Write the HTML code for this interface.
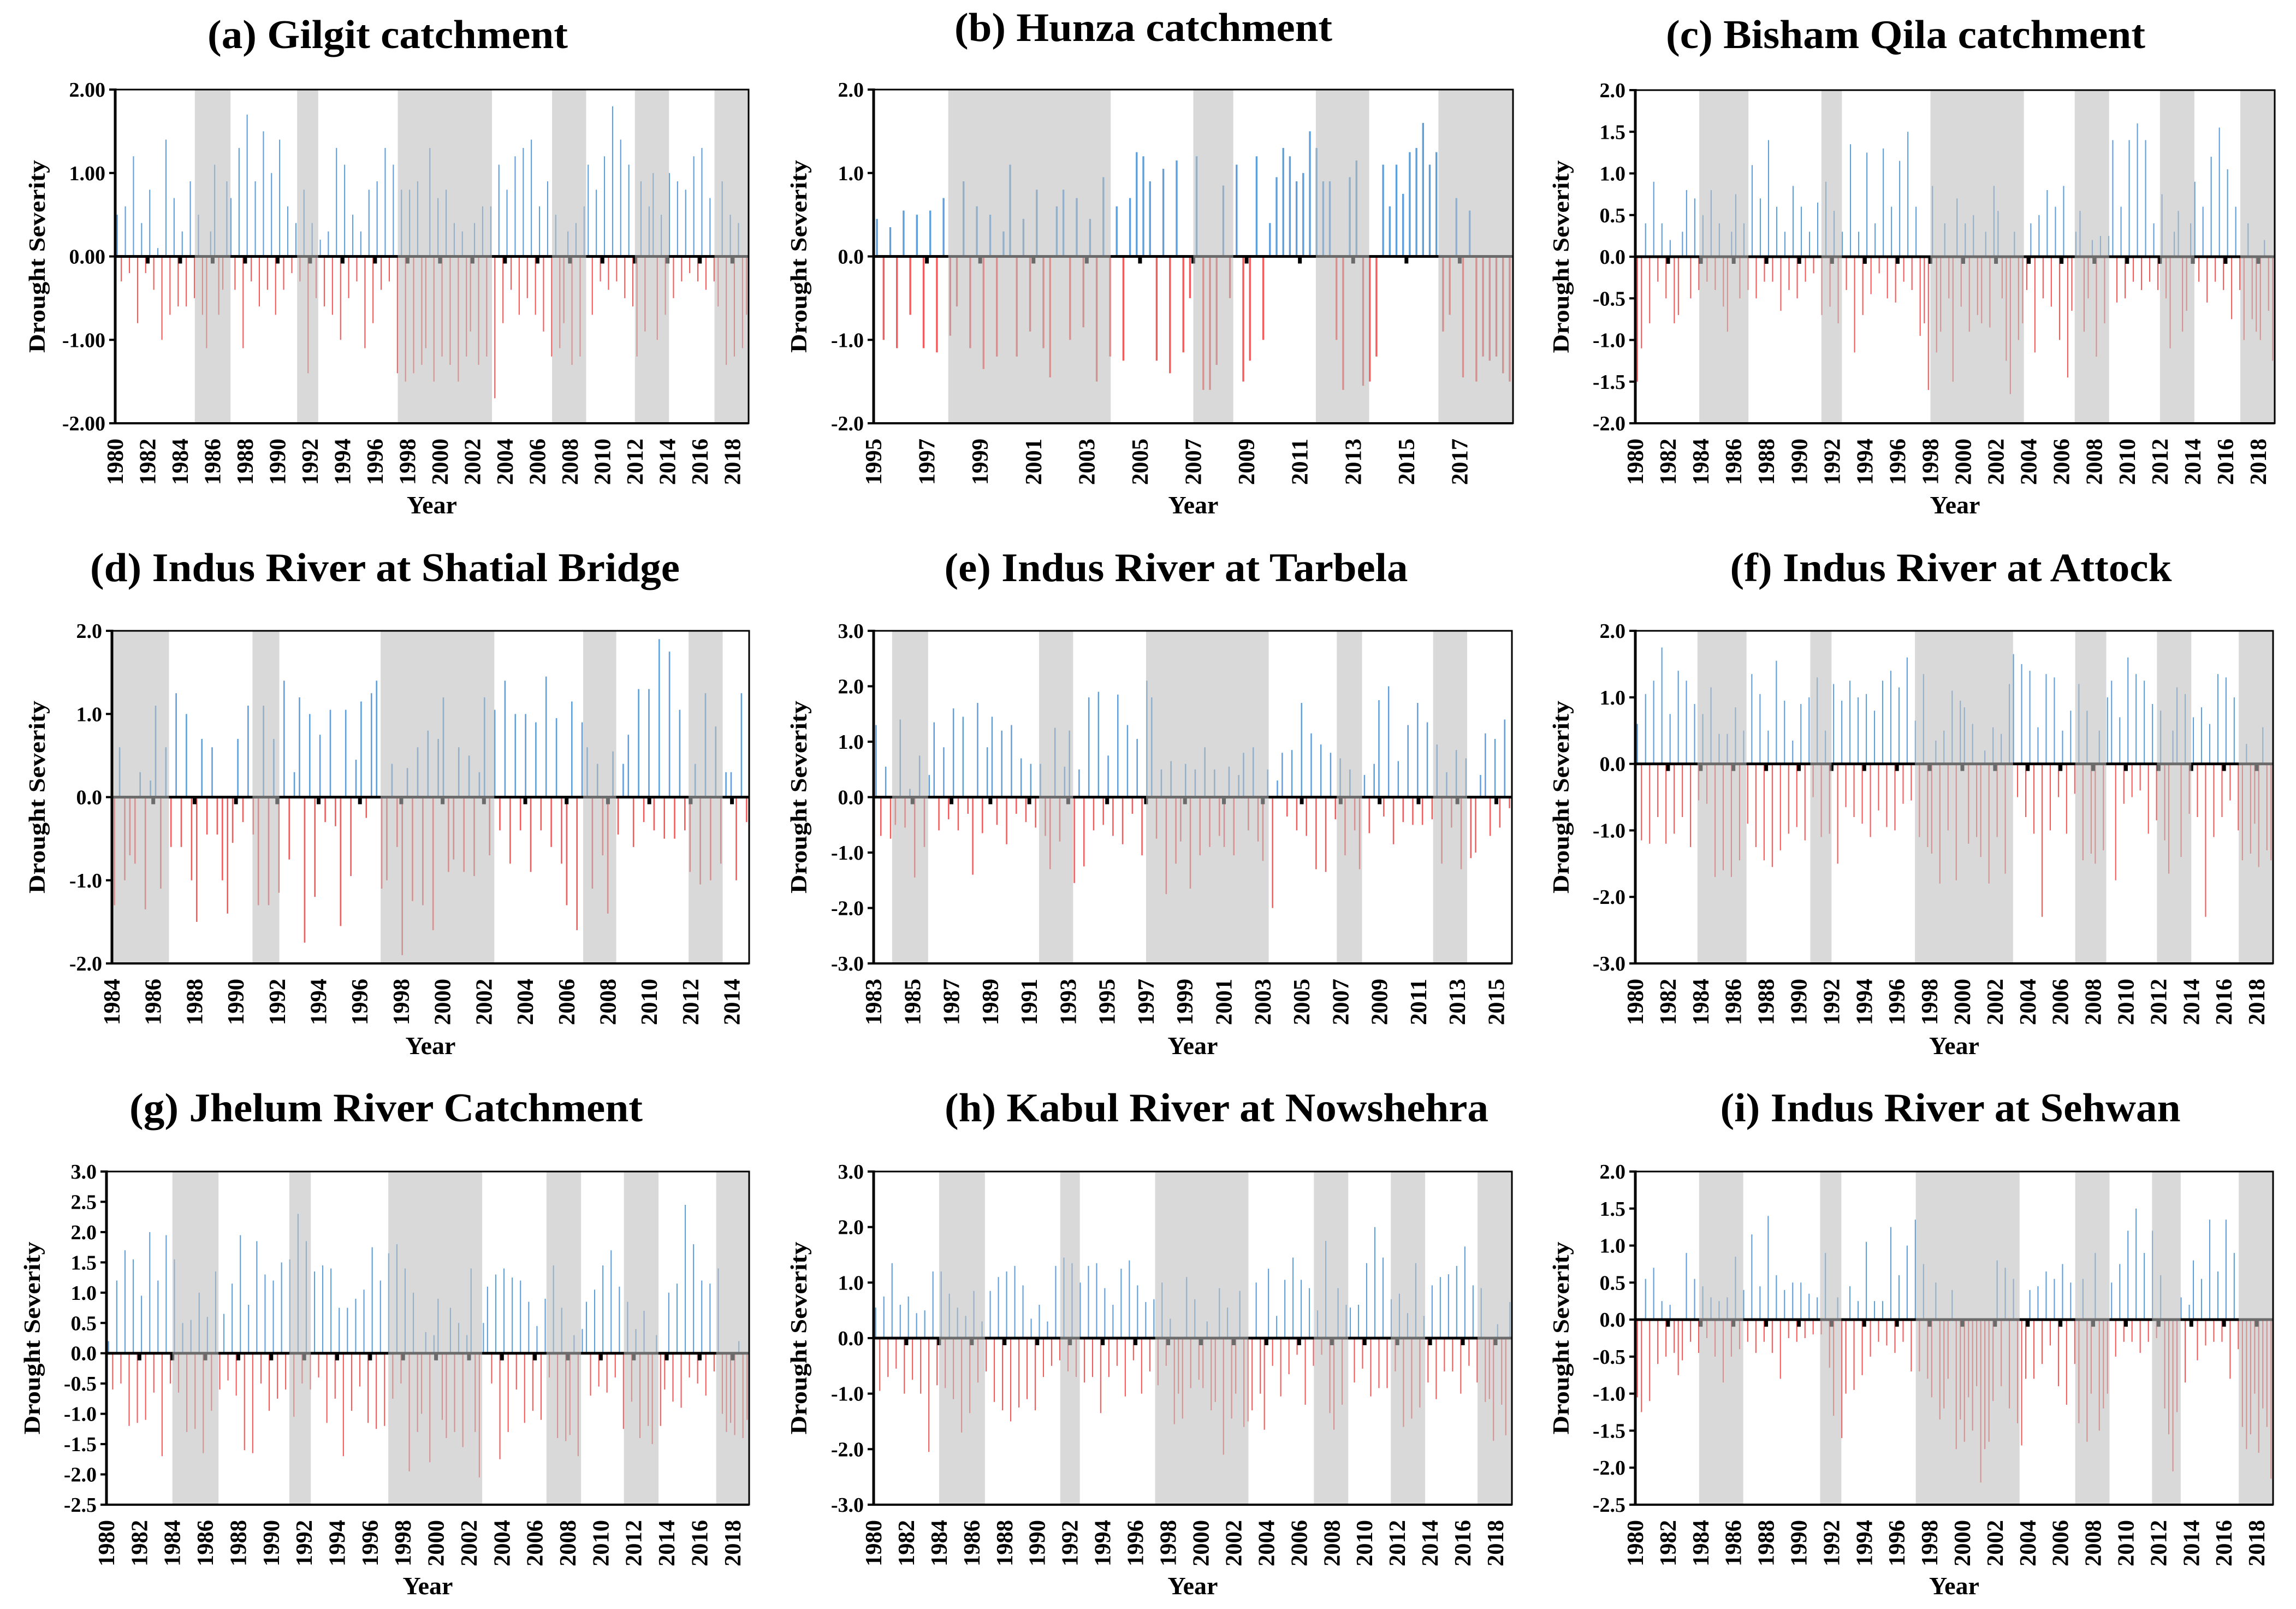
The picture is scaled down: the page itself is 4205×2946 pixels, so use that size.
<!DOCTYPE html>
<html><head><meta charset="utf-8"><title>Drought severity panels</title>
<style>html,body{margin:0;padding:0;background:#fff}svg{display:block}text{font-family:"Liberation Serif","Times New Roman",serif;font-weight:bold;fill:#000}</style>
</head><body>
<svg id="chart" xmlns="http://www.w3.org/2000/svg" width="4205" height="2946" viewBox="0 0 4205 2946"></svg>
<script>
const valsA=[0.5,-0.3,0.6,-0.2,1.2,-0.8,0.4,-0.2,0.8,-0.4,0.1,-1.0,1.4,-0.7,0.7,-0.6,0.3,-0.6,0.9,-0.5,0.5,-0.7,-1.1,0.3,1.1,-0.7,-0.4,0.9,0.7,-0.4,1.3,-1.1,1.7,-0.3,0.9,-0.6,1.5,-0.4,1.0,-0.7,1.4,-0.4,0.6,-0.2,0.4,-0.3,0.8,-1.4,0.4,-0.5,0.2,-0.6,0.3,-0.7,1.3,-1.0,1.1,-0.5,0.5,-0.3,0.3,-1.1,0.8,-0.8,0.9,-0.4,1.3,-0.3,1.1,-1.4,0.8,-1.5,0.8,-1.4,0.9,-1.3,-1.1,1.3,-1.5,0.7,-1.2,0.8,-1.3,0.4,-1.5,0.3,-1.2,-0.9,0.4,-1.3,0.6,-1.2,0.6,-1.7,1.1,-0.8,0.8,-0.4,1.2,-0.7,1.3,-0.5,1.4,-0.7,0.6,-0.9,0.9,-1.2,0.5,-1.1,-0.8,0.3,-1.3,0.4,-1.2,0.6,1.1,-0.7,0.8,-0.3,1.2,-0.4,1.8,-0.3,1.4,-0.5,1.1,-0.6,-1.2,0.9,-0.9,0.6,1.0,-1.0,0.5,-0.7,1.0,-0.5,0.9,-0.3,0.8,-0.2,1.2,-0.3,1.3,-0.4,0.7,-0.3,-0.6,0.9,-1.3,0.5,-1.2,0.4,-1.1,-0.7];
const valsB=[0.45,-1.0,0.35,-1.1,0.55,-0.7,0.5,-1.1,0.55,-1.15,0.7,-0.95,-0.6,0.9,-1.1,0.6,-1.35,0.5,-1.2,0.3,1.1,-1.2,0.45,-0.9,0.8,-1.1,-1.45,0.6,0.8,-1.0,0.7,-0.85,0.45,-1.5,0.95,-1.2,0.6,-1.25,0.7,1.25,1.2,0.9,-1.25,1.05,-1.4,1.15,-1.15,-0.5,1.2,-1.6,-1.6,-1.3,0.85,-0.5,1.1,-1.5,-1.25,1.2,-1.0,0.4,0.95,1.3,1.2,0.9,1.0,1.5,1.3,0.9,0.9,-1.0,-1.6,0.95,1.15,-1.55,-1.5,-1.2,1.1,0.6,1.1,0.75,1.25,1.3,1.6,1.1,1.25,-0.9,-0.7,0.7,-1.45,0.55,-1.5,-1.2,-1.25,-1.2,-1.4,-1.5];
const valsC=[-1.5,-1.1,0.4,-0.8,0.9,-0.3,0.4,-0.5,0.2,-0.8,-0.7,0.3,0.8,-0.5,0.7,-0.4,0.5,-0.3,0.8,-0.4,0.4,-0.6,-0.9,0.3,0.75,-0.5,0.4,-0.4,1.1,-0.5,0.7,-0.3,1.4,-0.3,0.6,-0.65,0.3,-0.4,0.85,-0.5,0.6,-0.3,0.3,-0.2,0.65,-0.7,0.9,-0.6,0.55,-0.8,0.3,-0.4,1.35,-1.15,0.3,-0.7,1.25,-0.45,0.4,-0.2,1.3,-0.5,0.6,-0.55,1.15,-0.3,1.5,-0.4,0.6,-0.95,-0.8,-1.6,0.85,-1.15,-0.9,0.4,-0.5,-1.5,0.7,-0.6,0.4,-0.9,0.5,-0.7,-0.8,0.3,-0.85,0.85,0.55,-0.5,-1.25,-1.65,0.3,-1.0,-0.8,-0.4,0.4,-1.15,0.5,-0.5,0.8,-0.6,0.6,-1.0,0.85,-1.45,-0.65,0.3,0.55,-0.9,-0.5,0.2,-1.2,0.25,-0.8,0.25,1.4,-0.55,0.6,-0.5,1.4,-0.3,1.6,-0.4,1.4,-0.3,0.4,-0.4,0.75,-0.5,-1.1,0.3,0.55,-0.9,-0.65,0.4,0.9,-0.3,0.6,-0.55,1.2,-0.3,1.55,-0.4,1.05,-0.75,0.6,-0.4,-1.0,0.4,-0.75,-0.9,-1.0,0.2,-0.65,-1.25];
const valsD=[-1.3,0.6,-1.0,-0.7,-0.8,0.3,-1.35,0.2,1.1,-1.1,0.6,-0.6,1.25,-0.6,1.0,-1.0,-1.5,0.7,-0.45,0.6,-0.45,-1.0,-1.4,-0.55,0.7,-0.3,1.1,-0.45,-1.3,1.1,-1.3,0.7,-1.15,1.4,-0.75,0.3,1.2,-1.75,1.0,-1.2,0.75,-0.3,1.05,-0.35,-1.55,1.05,-0.95,0.45,1.15,-0.25,1.25,1.4,-1.1,-1.0,0.4,-0.6,-1.9,0.35,-1.25,0.6,-1.3,0.8,-1.6,0.7,1.2,-0.9,-0.75,0.6,-0.9,0.5,-0.95,0.3,1.2,-0.7,1.05,-0.4,1.4,-0.8,1.0,-0.4,1.0,-0.9,0.9,-0.4,1.45,-0.6,0.95,-0.8,-1.3,1.15,-1.6,0.9,0.6,-1.1,0.4,-0.7,-1.4,0.55,-0.45,0.4,0.75,-0.6,1.3,-0.3,1.3,-0.4,1.9,-0.5,1.75,-0.5,1.05,-0.4,-0.9,0.4,-1.05,1.25,-1.0,0.85,-0.8,0.3,0.3,-1.0,1.25,-0.3];
const valsE=[1.3,-0.7,0.55,-0.75,-0.5,1.4,-0.55,0.15,-1.45,0.75,-0.9,0.4,1.35,-0.6,0.9,-0.4,1.6,-0.6,1.45,-0.3,-1.4,1.7,-0.65,0.9,1.45,-0.5,1.2,-0.85,1.3,-0.3,0.7,-0.45,0.6,-0.55,0.6,-0.7,-1.3,1.25,-0.8,0.55,1.2,-1.55,0.5,-1.25,1.8,-0.6,1.9,-0.5,0.75,-0.7,1.85,-0.85,1.3,-0.3,1.05,-1.05,2.1,1.8,-0.75,0.5,-1.75,0.65,-1.2,-0.8,0.6,-1.65,0.5,-1.05,0.9,-0.9,0.5,-0.7,-0.9,0.55,-1.05,0.4,0.8,-0.6,0.9,-0.8,-1.15,0.5,-2.0,0.3,0.8,-0.35,0.85,-0.6,1.7,-0.7,1.15,-1.3,0.95,-1.35,0.8,-0.4,0.7,-1.05,0.5,-0.6,-1.3,0.4,-0.65,0.6,1.75,-0.35,2.0,-0.85,0.65,-0.45,1.3,-0.5,1.7,-0.5,1.35,-0.4,0.95,-1.2,0.45,-0.55,0.85,-1.3,0.7,-1.1,-1.0,0.4,1.15,-0.7,1.05,-0.55,1.4,-0.2];
const valsF=[0.6,-1.15,1.05,-1.2,1.25,-0.8,1.75,-1.2,0.75,-1.05,1.4,-0.8,1.25,-1.25,0.9,-0.55,0.75,-0.6,1.15,-1.7,0.45,-1.6,0.45,-1.7,0.85,-1.45,0.5,-0.9,1.35,-1.25,1.05,-1.45,0.5,-1.55,1.55,-1.3,0.95,-1.05,0.35,-0.95,0.9,-1.15,1.0,-0.5,1.3,-1.1,0.5,-1.05,1.2,-1.5,0.95,-0.65,1.25,-0.8,1.0,-0.9,1.05,-1.1,0.8,-0.7,1.25,-0.95,1.4,-1.0,1.15,-0.6,1.6,-0.55,0.65,-1.1,1.35,-1.25,-1.35,0.35,-1.8,0.5,-1.0,1.1,-1.75,0.95,0.85,-1.2,0.6,-1.1,-1.4,0.2,-1.8,0.55,-1.1,0.45,-1.65,1.2,1.65,-0.5,1.5,-0.8,1.4,-1.05,0.55,-2.3,1.35,-1.0,1.3,-0.5,0.5,-1.05,0.8,-0.45,1.2,-1.45,0.8,-1.35,-1.5,0.5,-1.3,1.0,1.25,-1.75,0.7,-0.6,1.6,-0.5,1.35,-0.4,1.25,-1.05,0.9,-0.85,0.8,-1.15,-1.65,0.5,1.15,-1.4,1.05,-0.75,0.7,-0.8,0.85,-2.3,0.6,-1.1,1.35,-0.8,1.3,-0.55,1.0,-1.0,-1.45,0.3,-1.35,-0.9,-1.55,0.55,-1.3,-1.45];
const valsG=[0.2,-0.6,1.2,-0.5,1.7,-1.2,1.55,-1.15,0.95,-1.1,2.0,-0.65,1.2,-1.7,1.95,-0.5,1.55,-0.65,0.5,-1.3,0.55,-1.25,1.0,-1.65,0.6,-0.95,1.35,-0.6,0.65,-0.45,1.15,-0.7,1.95,-1.6,0.8,-1.65,1.85,-0.5,1.3,-0.95,1.2,-0.75,1.5,-0.6,1.55,-1.05,2.3,-0.5,1.85,-0.6,1.35,-0.4,1.45,-1.15,1.4,-0.75,0.75,-1.7,0.75,-0.95,0.9,-0.55,1.05,-1.15,1.75,-1.25,1.2,-1.2,1.65,-0.75,1.8,-0.5,1.4,-1.95,1.0,-1.3,-1.0,0.35,-1.8,0.3,0.9,-1.1,-1.4,0.75,-1.3,0.5,-1.55,0.3,1.4,-1.3,-2.05,0.5,1.1,-0.5,1.3,-1.75,1.4,-1.3,1.25,-0.6,1.2,-1.15,0.85,-0.95,0.45,-1.1,0.9,-0.4,1.45,-1.4,0.75,-1.45,-1.35,0.3,-1.7,0.4,0.85,-0.7,1.05,-0.55,1.45,-0.65,1.7,-0.4,1.1,-1.25,0.85,-0.8,0.4,-1.4,0.7,-1.2,-1.5,0.3,-1.2,-0.6,1.0,-0.8,1.15,-0.9,2.45,-0.4,1.8,-0.5,1.2,-0.7,1.15,-0.3,1.4,-1.0,-1.3,-1.15,-1.35,0.2,-1.4,-1.1];
const valsH=[0.55,-0.95,0.75,-0.7,1.35,-0.55,0.6,-1.0,0.75,-0.75,0.45,-1.0,0.5,-2.05,1.2,-0.85,1.2,-0.9,0.8,-1.1,0.55,-1.7,0.4,-1.35,0.85,-0.8,0.3,-0.6,0.85,-1.15,1.1,-1.3,1.2,-1.5,1.3,-1.25,0.95,-1.1,0.35,-1.3,0.6,-0.7,0.3,-0.5,1.3,-0.4,1.45,-0.6,1.35,-0.7,1.0,-0.8,1.3,-0.7,1.35,-1.35,0.9,-0.7,0.6,-0.5,1.25,-1.05,1.4,-0.4,0.95,-1.0,0.65,-0.6,0.7,-0.85,1.0,-0.5,0.35,-1.55,-1.0,-1.45,1.1,-0.9,0.7,-0.75,-0.9,0.3,-1.3,-1.15,0.9,-2.1,0.55,-1.45,-1.0,0.85,-1.6,-1.5,-1.3,1.0,-1.0,-1.65,1.25,-0.5,0.4,-1.05,1.05,-0.65,1.45,-0.3,1.05,-1.2,0.9,-0.5,0.5,-0.3,1.75,-1.35,-1.65,0.9,-1.2,0.6,0.55,-0.8,0.6,-0.55,1.35,-1.05,2.0,-0.9,1.45,-0.9,0.7,-0.6,0.8,-1.6,0.45,-1.45,1.35,-1.25,0.4,-0.8,0.95,-1.1,1.1,-0.6,1.15,-0.6,1.3,-1.0,1.65,-0.5,0.95,-0.8,0.9,-1.15,-1.1,-1.85,0.25,-1.2,-1.75,0.65];
const valsI=[-1.05,-1.25,0.55,-1.1,0.7,-0.6,0.25,-0.5,0.2,-0.45,-0.75,-0.55,0.9,-0.3,0.55,-0.45,0.45,-0.25,0.3,-0.5,0.25,-0.85,0.3,-0.5,0.85,-0.4,0.4,-0.3,1.15,-0.45,0.45,-0.3,1.4,-0.45,0.6,-0.8,0.4,-0.25,0.5,-0.3,0.5,-0.25,0.35,-0.2,0.3,-0.2,0.9,-0.65,-1.3,0.3,-1.6,-1.0,0.45,-0.95,0.25,-0.75,1.05,-0.5,0.25,-0.3,0.25,-0.35,1.25,-0.45,0.6,-0.3,1.0,-0.7,1.35,-0.7,0.75,-0.8,-1.05,0.5,-1.35,-1.2,-0.8,0.4,-1.75,-1.35,-1.65,-1.05,-1.5,-0.9,-2.2,-1.75,-1.65,-1.1,0.8,-0.9,0.7,-1.2,0.55,-1.4,-1.7,-0.8,0.4,-0.8,0.45,-0.6,0.65,-0.35,0.55,-0.9,0.75,-1.15,0.5,-0.6,-1.4,0.55,-1.65,-1.0,0.9,-1.5,-1.2,-1.0,0.5,-0.5,0.75,-0.3,1.2,-0.3,1.5,-0.45,0.9,-0.3,1.2,-0.25,0.6,-1.2,-1.55,-2.05,-1.25,0.3,-0.85,0.2,0.8,-0.55,0.55,-0.35,1.35,-0.3,0.65,-0.3,1.35,-0.8,0.9,-0.4,-1.45,-1.75,-1.55,-1.0,-1.8,-1.2,-1.45,-2.15];

const shadesA=[[1984.9,1987.1],[1991.2,1992.5],[1997.4,2003.2],[2006.9,2009.0],[2012.0,2014.1],[2016.9,2019]];
const shadesB=[[1997.8,2003.9],[2007.0,2008.5],[2011.6,2013.6],[2016.2,2019]];
const shadesC=[[1983.9,1986.9],[1991.35,1992.6],[1998.0,2003.7],[2006.8,2008.9],[2012.0,2014.1],[2016.9,2019]];
const shadesD=[[1984,1986.76],[1990.8,1992.1],[1997.0,2002.5],[2006.8,2008.4],[2011.9,2013.55]];
const shadesE=[[1983.95,1985.8],[1991.5,1993.25],[1997.0,2003.3],[2006.8,2008.1],[2011.75,2013.5]];
const shadesF=[[1983.8,1986.8],[1990.7,1992.0],[1997.1,2003.1],[2006.9,2008.8],[2011.9,2014.0],[2016.9,2019]];
const shadesG=[[1984.0,1986.8],[1991.1,1992.4],[1997.1,2002.8],[2006.7,2008.8],[2011.4,2013.5],[2017.0,2019]];
const shadesH=[[1984.0,1986.8],[1991.4,1992.6],[1997.2,2002.9],[2006.9,2009.0],[2011.6,2013.7],[2016.9,2019]];
const shadesI=[[1983.9,1986.6],[1991.3,1992.6],[1997.15,2003.5],[2006.9,2009.0],[2011.6,2013.35],[2016.9,2019]];

const titles=["(a) Gilgit catchment","(b) Hunza catchment","(c) Bisham Qila catchment","(d) Indus River at Shatial Bridge","(e) Indus River at Tarbela","(f) Indus River at Attock","(g) Jhelum River Catchment","(h) Kabul River at Nowshehra","(i) Indus River at Sehwan"];
const yRanges=[[-2,2,1,2],[-2,2,1,1],[-2,2,0.5,1],[-2,2,1,1],[-3,3,1,1],[-3,2,1,1],[-2.5,3,0.5,1],[-3,3,1,1],[-2.5,2,0.5,1]];
const yearStarts=[1980,1995,1980,1984,1983,1980,1980,1980,1980];
const yearSpans=[39,24,39,30.83,32.8,39,39,39,39];
const labelYears=[[1980,2018],[1995,2017],[1980,2018],[1984,2014],[1983,2015],[1980,2018],[1980,2018],[1980,2018],[1980,2018]];
const series=[valsA,valsB,valsC,valsD,valsE,valsF,valsG,valsH,valsI];
const shades=[shadesA,shadesB,shadesC,shadesD,shadesE,shadesF,shadesG,shadesH,shadesI];

const geo=[
 {l:211,r:1371,t:164,b:775,tx:710,ty:88,tw:660,yt:67,xl:940},
 {l:1600,r:2771,t:164,b:775,tx:2094,ty:75,tw:692,yt:1462,xl:940},
 {l:2995,r:4166,t:165,b:775,tx:3490,ty:88,tw:878,yt:2858,xl:940},
 {l:205,r:1372,t:1155,b:1764,tx:705,ty:1064,tw:1080,yt:67,xl:1930},
 {l:1600,r:2769,t:1155,b:1764,tx:2154,ty:1064,tw:849,yt:1462,xl:1930},
 {l:2995,r:4163,t:1155,b:1764,tx:3573,ty:1064,tw:809,yt:2858,xl:1930},
 {l:195,r:1372,t:2145,b:2755,tx:707,ty:2053,tw:940,yt:58,xl:2919},
 {l:1600,r:2769,t:2145,b:2755,tx:2228,ty:2053,tw:996,yt:1462,xl:2919},
 {l:2995,r:4163,t:2145,b:2755,tx:3572,ty:2053,tw:843,yt:2858,xl:2919}
];
const NS="http://www.w3.org/2000/svg";
const svg=document.getElementById("chart");
function mk(tag,attrs,parent){const e=document.createElementNS(NS,tag);for(const k in attrs)e.setAttribute(k,attrs[k]);parent.appendChild(e);return e;}
const letters="abcdefghi";
for(let p=0;p<9;p++){
 const G=geo[p],[yMin,yMax,yStep,dec]=yRanges[p],start=yearStarts[p],span=yearSpans[p],vals=series[p];
 const xs=yr=>G.l+(yr-start)/span*(G.r-G.l);
 const ys=v=>G.b-(v-yMin)/(yMax-yMin)*(G.b-G.t);
 const g=mk("g",{},svg);
 
 
 const bg=mk("rect",{x:G.l,y:G.t,width:G.r-G.l,height:G.b-G.t,fill:"#fff"},g);
 
 
 const n=vals.length,slot=(G.r-G.l)/n,bw=Math.max(2,slot*0.28);
 const y0=ys(0);
 vals.forEach((v,i)=>{
  const cx=xs(start+(i+0.5)*span/n),yv=ys(v);
  const bar=mk("rect",{x:(cx-bw/2).toFixed(1),y:Math.min(yv,y0).toFixed(1),width:bw.toFixed(1),height:Math.abs(yv-y0).toFixed(1),fill:v>=0?"#5fa0db":"#f25c5c"},g);
  
  
 });
 const zl=mk("line",{x1:G.l,x2:G.r,y1:y0,y2:y0,stroke:"#000","stroke-width":5},g);
 
 
 for(let yr=start+2;yr<start+span;yr+=2){
  const tk=mk("rect",{x:xs(yr)-3.5,y:y0,width:7,height:13,fill:"#000"},g);
  
  
 }
 shades[p].forEach(s=>{
  const a=Math.max(G.l,xs(s[0])),b2=Math.min(G.r,xs(s[1]));
  const sr=mk("rect",{x:a,y:G.t,width:b2-a,height:G.b-G.t,fill:"rgba(188,188,188,0.57)"},g);
  
  
 });
 const fr=mk("rect",{x:G.l,y:G.t,width:G.r-G.l,height:G.b-G.t,fill:"none",stroke:"#000","stroke-width":3},g);
 
 
 const la=mk("line",{x1:G.l,x2:G.l,y1:G.t-2,y2:G.b+2,stroke:"#000","stroke-width":5},g);
 
 
 const ba=mk("line",{x1:G.l,x2:G.r,y1:G.b,y2:G.b,stroke:"#000","stroke-width":4},g);
 
 
 const nT=Math.round((yMax-yMin)/yStep);
 for(let k=0;k<=nT;k++){
  const v=yMin+k*yStep,yy=ys(v);
  const tl=mk("line",{x1:G.l-11,x2:G.l,y1:yy,y2:yy,stroke:"#000","stroke-width":4},g);
  
  
  const tt=mk("text",{x:G.l-18,y:yy+13,"text-anchor":"end","font-size":38},g);
  tt.textContent=(Math.abs(v)<1e-9?0:v).toFixed(dec);
  
  
 }
 for(let yr=labelYears[p][0];yr<=labelYears[p][1];yr+=2){
  const x=xs(yr)+14,y=G.b+28;
  const xt=mk("text",{x:x,y:y,transform:"rotate(-90 "+x+" "+y+")","text-anchor":"end","font-size":42,textLength:85,lengthAdjust:"spacingAndGlyphs"},g);
  xt.textContent=String(yr);
  
  
 }
 const cy=(G.t+G.b)/2,yx=G.yt+15;
 const yt=mk("text",{x:yx,y:cy,transform:"rotate(-90 "+yx+" "+cy+")","text-anchor":"middle","font-size":42,textLength:353,lengthAdjust:"spacingAndGlyphs"},g);
 yt.textContent="Drought Severity";
 
 
 const xt2=mk("text",{x:(G.l+G.r)/2,y:G.xl,"text-anchor":"middle","font-size":46},g);
 xt2.textContent="Year";
 
 
 const tt2=mk("text",{x:G.tx,y:G.ty,"text-anchor":"middle","font-size":74,textLength:G.tw,lengthAdjust:"spacingAndGlyphs"},g);
 tt2.textContent=titles[p];
 
 
}
</script>
</body></html>
